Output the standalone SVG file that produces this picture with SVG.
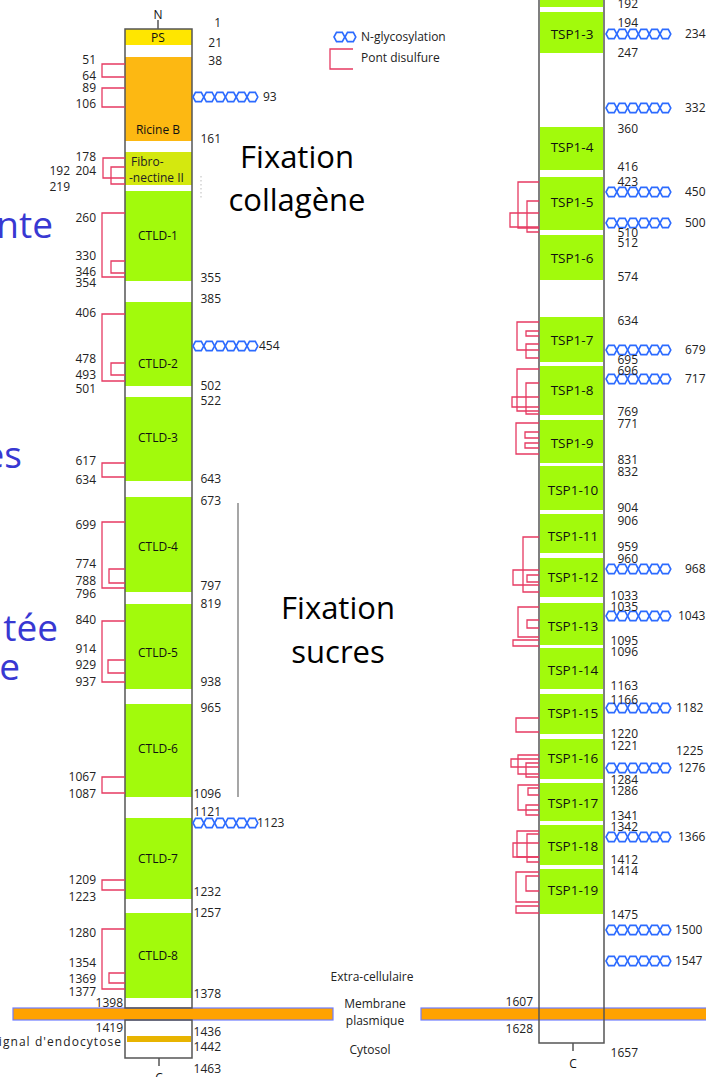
<svg xmlns="http://www.w3.org/2000/svg" xmlns:xlink="http://www.w3.org/1999/xlink" width="706" height="1077" viewBox="0 0 706 1077">
<style>
.num{font-family:"Open Sans","Noto Sans",sans-serif;font-size:12px;fill:#222}
.r{text-anchor:end}
.dom{font-family:"Open Sans","Noto Sans",sans-serif;font-size:12px;fill:#111;text-anchor:middle}
.tsp{font-family:"Open Sans","Noto Sans",sans-serif;font-size:13.5px;fill:#111;text-anchor:middle}
.big{font-family:"Open Sans","Noto Sans",sans-serif;font-size:31px;fill:#000;text-anchor:middle}
.blue{font-family:"Open Sans","Noto Sans",sans-serif;font-size:37px;fill:#3838d2;text-anchor:end}
.green{fill:#a2fa0c}
.ss{fill:none;stroke:#e63a62;stroke-width:1.3}
.box{fill:none;stroke:#555;stroke-width:1.5}
.hex{fill:none;stroke:#2c6bff;stroke-width:1.6}
.mem{fill:#ffa200;stroke:#6f7dff;stroke-width:1.2}
</style>
<defs>
<path id="h1" class="hex" d="M0,0 L2.5,-4.6 L8.3,-4.6 L10.8,0 L8.3,4.6 L2.5,4.6 Z"/>
<g id="glyco">
<use xlink:href="#h1" x="0"/><use xlink:href="#h1" x="10.8"/><use xlink:href="#h1" x="21.6"/><use xlink:href="#h1" x="32.4"/><use xlink:href="#h1" x="43.2"/><use xlink:href="#h1" x="54"/>
</g>
</defs>
<rect width="706" height="1077" fill="#fff"/>

<!-- membranes -->
<g id="membrane">
<rect class="mem" x="13" y="1008" width="320" height="12"/>
<rect class="mem" x="421" y="1008" width="290" height="12"/>
</g>

<!-- left protein -->
<g id="left-protein">
<rect x="125" y="29" width="67" height="16" fill="#ffe600"/>
<rect x="125" y="57" width="67" height="84" fill="#fdb812"/>
<rect x="125" y="152" width="67" height="33" fill="#d4e80f"/>
<rect class="green" x="125" y="191" width="67" height="90"/>
<rect class="green" x="125" y="302" width="67" height="84"/>
<rect class="green" x="125" y="397" width="67" height="84"/>
<rect class="green" x="125" y="497" width="67" height="95"/>
<rect class="green" x="125" y="604" width="67" height="85"/>
<rect class="green" x="125" y="704" width="67" height="93"/>
<rect class="green" x="125" y="818" width="67" height="81"/>
<rect class="green" x="125" y="913" width="67" height="85"/>
<rect x="127" y="1036" width="64" height="6" fill="#e8b400"/>
<rect class="box" x="125" y="29" width="67" height="979"/>
<rect class="box" x="125" y="1020" width="67" height="38"/>
<line x1="158" y1="20" x2="158" y2="29" stroke="#555" stroke-width="1.5"/>
<line x1="159" y1="1058" x2="159" y2="1066" stroke="#555" stroke-width="1.5"/>
<text class="dom" x="158" y="19">N</text>
<text class="dom" x="159" y="1082">C</text>
<text class="dom" x="158" y="42">PS</text>
<text class="dom" x="158" y="134">Ricine B</text>
<text class="num" x="131" y="166">Fibro-</text>
<text class="num" x="129" y="182">-nectine II</text>
<text class="dom" x="158" y="240">CTLD-1</text>
<text class="dom" x="158" y="368">CTLD-2</text>
<text class="dom" x="158" y="442">CTLD-3</text>
<text class="dom" x="158" y="551">CTLD-4</text>
<text class="dom" x="158" y="657">CTLD-5</text>
<text class="dom" x="158" y="753">CTLD-6</text>
<text class="dom" x="158" y="863">CTLD-7</text>
<text class="dom" x="158" y="960">CTLD-8</text>
</g>

<!-- right protein -->
<g id="right-protein">
<rect class="green" x="540" y="-5" width="63" height="12"/>
<rect class="green" x="540" y="12" width="63" height="41"/>
<rect class="green" x="540" y="127" width="63" height="43"/>
<rect class="green" x="540" y="177" width="63" height="53"/>
<rect class="green" x="540" y="235" width="63" height="45"/>
<rect class="green" x="540" y="317" width="63" height="45"/>
<rect class="green" x="540" y="366" width="63" height="49"/>
<rect class="green" x="540" y="420" width="63" height="43"/>
<rect class="green" x="540" y="466" width="63" height="44"/>
<rect class="green" x="540" y="514" width="63" height="39"/>
<rect class="green" x="540" y="558" width="63" height="39"/>
<rect class="green" x="540" y="603" width="63" height="42"/>
<rect class="green" x="540" y="648" width="63" height="41"/>
<rect class="green" x="540" y="694" width="63" height="40"/>
<rect class="green" x="540" y="739" width="63" height="40"/>
<rect class="green" x="540" y="783" width="63" height="38"/>
<rect class="green" x="540" y="825" width="63" height="40"/>
<rect class="green" x="540" y="869" width="63" height="45"/>
<path class="box" d="M539,-5 V1043 H604 V-5"/>
<line x1="573" y1="1043" x2="573" y2="1051" stroke="#555" stroke-width="1.5"/>
<text class="dom" x="573" y="1068">C</text>
<text class="tsp" x="572" y="39">TSP1-3</text>
<text class="tsp" x="572" y="152">TSP1-4</text>
<text class="tsp" x="572" y="207">TSP1-5</text>
<text class="tsp" x="572" y="263">TSP1-6</text>
<text class="tsp" x="572" y="345">TSP1-7</text>
<text class="tsp" x="572" y="395">TSP1-8</text>
<text class="tsp" x="572" y="448">TSP1-9</text>
<text class="tsp" x="573" y="495">TSP1-10</text>
<text class="tsp" x="573" y="541">TSP1-11</text>
<text class="tsp" x="573" y="582">TSP1-12</text>
<text class="tsp" x="573" y="631">TSP1-13</text>
<text class="tsp" x="573" y="675">TSP1-14</text>
<text class="tsp" x="573" y="718">TSP1-15</text>
<text class="tsp" x="573" y="763">TSP1-16</text>
<text class="tsp" x="573" y="808">TSP1-17</text>
<text class="tsp" x="573" y="851">TSP1-18</text>
<text class="tsp" x="573" y="895">TSP1-19</text>
</g>

<!-- disulfide bridges and glycosylation sites -->
<g id="connectors">
<g id="ss-left">
<path class="ss" d="M125,64H102V77H125"/>
<path class="ss" d="M125,88H102V107H125"/>
<path class="ss" d="M125,158H103V178H125"/>
<path class="ss" d="M125,167H111V184H125"/>
<path class="ss" d="M125,213H102V277H125"/>
<path class="ss" d="M125,261H111V273H125"/>
<path class="ss" d="M125,314H102V381H125"/>
<path class="ss" d="M125,363H111V375H125"/>
<path class="ss" d="M125,463H102V477H125"/>
<path class="ss" d="M125,522H102V588H125"/>
<path class="ss" d="M125,569H109V583H125"/>
<path class="ss" d="M125,621H102V682H125"/>
<path class="ss" d="M125,660H108V673H125"/>
<path class="ss" d="M125,777H102V793H125"/>
<path class="ss" d="M125,880H102V890H125"/>
<path class="ss" d="M125,929H102V989H125"/>
<path class="ss" d="M125,973H109V983H125"/>
</g>
<g id="ss-right">
<path class="ss" d="M539,182H518V228H539"/>
<path class="ss" d="M539,201H527V232H539"/>
<path class="ss" d="M539,213H510V227H539"/>
<path class="ss" d="M539,322H517V350H539"/>
<path class="ss" d="M539,331H526V336H539"/>
<path class="ss" d="M539,344H526V358H539"/>
<path class="ss" d="M539,369H517V411H539"/>
<path class="ss" d="M539,383H526V414H539"/>
<path class="ss" d="M539,397H512V407H539"/>
<path class="ss" d="M539,423H516V454H539"/>
<path class="ss" d="M539,432H525V438H539"/>
<path class="ss" d="M539,443H525V448H539"/>
<path class="ss" d="M539,537H523V592H539"/>
<path class="ss" d="M539,570H513V585H539"/>
<path class="ss" d="M539,575H527V582H539"/>
<path class="ss" d="M539,607H518V637H539"/>
<path class="ss" d="M539,620H527V628H539"/>
<path class="ss" d="M539,640H513V646H539"/>
<path class="ss" d="M539,718H516V732H539"/>
<path class="ss" d="M539,755H518V774H539"/>
<path class="ss" d="M539,759H511V767H539"/>
<path class="ss" d="M539,763H526V777H539"/>
<path class="ss" d="M539,785H518V810H539"/>
<path class="ss" d="M539,788H528V795H539"/>
<path class="ss" d="M539,805H526V815H539"/>
<path class="ss" d="M539,831H517V857H539"/>
<path class="ss" d="M539,834H527V862H539"/>
<path class="ss" d="M539,843H513V857H539"/>
<path class="ss" d="M539,872H516V902H539"/>
<path class="ss" d="M539,876H526V891H539"/>
<path class="ss" d="M539,906H516V913H539"/>
</g>
<g id="glyco-sites">
<use xlink:href="#glyco" x="193" y="97"/>
<use xlink:href="#glyco" x="193" y="346"/>
<use xlink:href="#glyco" x="193" y="823"/>
<use xlink:href="#glyco" x="606" y="34"/>
<use xlink:href="#glyco" x="606" y="108"/>
<use xlink:href="#glyco" x="606" y="192"/>
<use xlink:href="#glyco" x="606" y="223"/>
<use xlink:href="#glyco" x="606" y="350"/>
<use xlink:href="#glyco" x="606" y="379"/>
<use xlink:href="#glyco" x="606" y="569"/>
<use xlink:href="#glyco" x="606" y="616"/>
<use xlink:href="#glyco" x="606" y="708"/>
<use xlink:href="#glyco" x="606" y="768"/>
<use xlink:href="#glyco" x="606" y="837"/>
<use xlink:href="#glyco" x="606" y="930"/>
<use xlink:href="#glyco" x="606" y="961"/>
</g>
<line id="sugar-span" x1="238" y1="503" x2="238" y2="797" stroke="#777" stroke-width="1.3"/>
<line x1="201" y1="176" x2="201" y2="200" stroke="#bbb" stroke-width="1" stroke-dasharray="1.5 2.5"/>
</g>

<!-- legend -->
<g id="legend">
<use xlink:href="#h1" x="334" y="37"/><use xlink:href="#h1" x="345" y="37"/>
<text class="num" x="361" y="41">N-glycosylation</text>
<path class="ss" d="M353,49H330V69H353"/>
<text class="num" x="361" y="62">Pont disulfure</text>
</g>

<!-- left numbers -->
<g id="left-numbers">
<text class="num r" x="96" y="64">51</text>
<text class="num r" x="96" y="80">64</text>
<text class="num r" x="96" y="92">89</text>
<text class="num r" x="96" y="108">106</text>
<text class="num r" x="96" y="161">178</text>
<text class="num r" x="70" y="175">192</text>
<text class="num r" x="96" y="175">204</text>
<text class="num r" x="70" y="191">219</text>
<text class="num r" x="96" y="222">260</text>
<text class="num r" x="96" y="260">330</text>
<text class="num r" x="96" y="276">346</text>
<text class="num r" x="96" y="287">354</text>
<text class="num r" x="96" y="317">406</text>
<text class="num r" x="96" y="363">478</text>
<text class="num r" x="96" y="379">493</text>
<text class="num r" x="96" y="393">501</text>
<text class="num r" x="96" y="465">617</text>
<text class="num r" x="96" y="484">634</text>
<text class="num r" x="96" y="529">699</text>
<text class="num r" x="96" y="568">774</text>
<text class="num r" x="96" y="585">788</text>
<text class="num r" x="96" y="598">796</text>
<text class="num r" x="96" y="624">840</text>
<text class="num r" x="96" y="653">914</text>
<text class="num r" x="96" y="669">929</text>
<text class="num r" x="96" y="686">937</text>
<text class="num r" x="96" y="781">1067</text>
<text class="num r" x="96" y="798">1087</text>
<text class="num r" x="96" y="884">1209</text>
<text class="num r" x="96" y="901">1223</text>
<text class="num r" x="96" y="937">1280</text>
<text class="num r" x="96" y="967">1354</text>
<text class="num r" x="96" y="983">1369</text>
<text class="num r" x="96" y="996">1377</text>
<text class="num r" x="123" y="1007">1398</text>
<text class="num r" x="123" y="1032">1419</text>
<text class="num" x="-8" y="1046" textLength="129" lengthAdjust="spacing">signal d'endocytose</text>
</g>

<g id="left-numbers-right">
<text class="num r" x="221" y="27">1</text>
<text class="num r" x="222" y="47">21</text>
<text class="num r" x="222" y="65">38</text>
<text class="num" x="263" y="101">93</text>
<text class="num r" x="221" y="143">161</text>
<text class="num r" x="221" y="282">355</text>
<text class="num r" x="221" y="303">385</text>
<text class="num" x="259" y="350">454</text>
<text class="num r" x="221" y="390">502</text>
<text class="num r" x="221" y="405">522</text>
<text class="num r" x="221" y="483">643</text>
<text class="num r" x="221" y="505">673</text>
<text class="num r" x="221" y="590">797</text>
<text class="num r" x="221" y="608">819</text>
<text class="num r" x="221" y="686">938</text>
<text class="num r" x="221" y="712">965</text>
<text class="num r" x="221" y="798">1096</text>
<text class="num r" x="221" y="816">1121</text>
<text class="num" x="257" y="827">1123</text>
<text class="num r" x="221" y="896">1232</text>
<text class="num r" x="221" y="917">1257</text>
<text class="num r" x="221" y="998">1378</text>
<text class="num r" x="221" y="1036">1436</text>
<text class="num r" x="221" y="1051">1442</text>
<text class="num r" x="221" y="1073">1463</text>
</g>

<!-- right numbers -->
<g id="right-numbers">
<text class="num r" x="638" y="8">192</text>
<text class="num r" x="638" y="27">194</text>
<text class="num r" x="638" y="57">247</text>
<text class="num r" x="638" y="133">360</text>
<text class="num r" x="638" y="171">416</text>
<text class="num r" x="638" y="186">423</text>
<text class="num r" x="638" y="237">510</text>
<text class="num r" x="638" y="247">512</text>
<text class="num r" x="638" y="281">574</text>
<text class="num r" x="638" y="325">634</text>
<text class="num r" x="638" y="364">695</text>
<text class="num r" x="638" y="375">696</text>
<text class="num r" x="638" y="416">769</text>
<text class="num r" x="638" y="428">771</text>
<text class="num r" x="638" y="464">831</text>
<text class="num r" x="638" y="476">832</text>
<text class="num r" x="638" y="512">904</text>
<text class="num r" x="638" y="525">906</text>
<text class="num r" x="638" y="551">959</text>
<text class="num r" x="638" y="563">960</text>
<text class="num r" x="638" y="600">1033</text>
<text class="num r" x="638" y="611">1035</text>
<text class="num r" x="638" y="645">1095</text>
<text class="num r" x="638" y="656">1096</text>
<text class="num r" x="638" y="690">1163</text>
<text class="num r" x="638" y="704">1166</text>
<text class="num r" x="638" y="738">1220</text>
<text class="num r" x="638" y="750">1221</text>
<text class="num r" x="638" y="784">1284</text>
<text class="num r" x="638" y="795">1286</text>
<text class="num r" x="638" y="820">1341</text>
<text class="num r" x="638" y="831">1342</text>
<text class="num r" x="638" y="864">1412</text>
<text class="num r" x="638" y="875">1414</text>
<text class="num r" x="638" y="919">1475</text>
<text class="num r" x="533" y="1006">1607</text>
<text class="num r" x="533" y="1033">1628</text>
<text class="num r" x="638" y="1057">1657</text>
<text class="num" x="685" y="38">234</text>
<text class="num" x="685" y="112">332</text>
<text class="num" x="685" y="196">450</text>
<text class="num" x="685" y="227">500</text>
<text class="num" x="685" y="354">679</text>
<text class="num" x="685" y="383">717</text>
<text class="num" x="685" y="573">968</text>
<text class="num" x="678" y="620">1043</text>
<text class="num" x="676" y="712">1182</text>
<text class="num" x="676" y="755">1225</text>
<text class="num" x="678" y="772">1276</text>
<text class="num" x="678" y="841">1366</text>
<text class="num" x="675" y="934">1500</text>
<text class="num" x="675" y="965">1547</text>
</g>

<!-- region labels -->
<g id="regions">
<text class="num" x="372" y="981" text-anchor="middle">Extra-cellulaire</text>
<text class="num" x="375" y="1008" text-anchor="middle">Membrane</text>
<text class="num" x="375" y="1025" text-anchor="middle">plasmique</text>
<text class="num" x="370" y="1054" text-anchor="middle">Cytosol</text>
</g>

<g id="annotations">
<text class="big" x="297" y="168">Fixation</text>
<text class="big" x="297" y="211">collagène</text>
<text class="big" x="338" y="619">Fixation</text>
<text class="big" x="338" y="663">sucres</text>
<text class="blue" x="53" y="238">nte</text>
<text class="blue" x="22" y="468">es</text>
<text class="blue" x="58" y="641">tée</text>
<text class="blue" x="20" y="680">e</text>
</g>
</svg>
